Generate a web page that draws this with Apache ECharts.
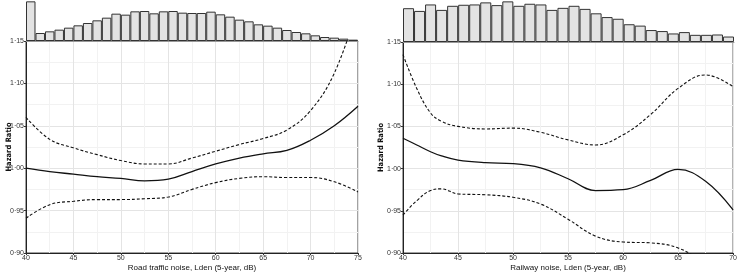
<!DOCTYPE html>
<html>
<head>
<meta charset="utf-8">
<script src="https://cdn.jsdelivr.net/npm/echarts@6/dist/echarts.min.js"></script>
<style>
  html, body { margin: 0; padding: 0; background: #fff; }
  #chart { width: 740px; height: 277px; }
</style>
</head>
<body>
<div id="chart"></div>
<script>
// 直方图 (相对频数, 1 dB 一格)
const roadBins = [40, 41, 42, 43, 44, 45, 46, 47, 48, 49, 50, 51, 52, 53, 54, 55, 56, 57, 58, 59, 60, 61, 62, 63, 64, 65, 66, 67, 68, 69, 70, 71, 72, 73, 74]
const roadCounts = [119, 24, 29, 34, 40, 47, 54, 62, 70, 82, 79, 89, 90, 83, 89, 90, 85, 84, 84, 88, 80, 73, 64, 59, 50, 46, 40, 33, 27, 23, 17, 12, 10, 7, 4]
const railBins = [40, 41, 42, 43, 44, 45, 46, 47, 48, 49, 50, 51, 52, 53, 54, 55, 56, 57, 58, 59, 60, 61, 62, 63, 64, 65, 66, 67, 68, 69]
const railCounts = [99, 91, 110, 94, 106, 109, 110, 116, 108, 119, 106, 112, 110, 94, 100, 106, 97, 84, 73, 68, 52, 48, 35, 32, 25, 29, 21, 21, 22, 16]

// 道路交通噪声
const roadDb = [40, 42.5, 45, 47.5, 50, 52.5, 55, 57.5, 60, 62.5, 65, 67.5, 70, 72.5, 75]
const roadHr = [1.000, 0.996, 0.993, 0.990, 0.988, 0.985, 0.987, 0.996, 1.005, 1.012, 1.017, 1.021, 1.033, 1.050, 1.073]
const roadHi = [1.060, 1.034, 1.024, 1.016, 1.009, 1.005, 1.005, 1.012, 1.020, 1.028, 1.035, 1.045, 1.068, 1.112, 1.190]
const roadLo = [0.941, 0.957, 0.961, 0.963, 0.963, 0.964, 0.966, 0.975, 0.983, 0.988, 0.990, 0.989, 0.989, 0.984, 0.972]

// 铁路噪声
const railDb = [40, 41.25, 42.5, 43.5, 45, 47.5, 50, 52.5, 55, 57.5, 60, 62.5, 65, 67.5, 70]
const railHr = [1.036, 1.028, 1.020, 1.015, 1.010, 1.007, 1.006, 1.001, 0.988, 0.974, 0.975, 0.986, 0.999, 0.985, 0.951]
const railHi = [1.135, 1.095, 1.066, 1.056, 1.050, 1.047, 1.048, 1.043, 1.034, 1.028, 1.040, 1.064, 1.095, 1.111, 1.097]
const railLo = [0.945, 0.962, 0.974, 0.976, 0.970, 0.969, 0.966, 0.958, 0.940, 0.920, 0.913, 0.912, 0.906, 0.887, 0.860]

const font = 'Liberation Sans, Arial, sans-serif'
const narrow = '"Liberation Sans Narrow", "DejaVu Sans Condensed", "Liberation Sans", sans-serif'
const fmt = v => v.toFixed(2).replace('.', '·')
const pairs = (xs, ys) => xs.map((x, i) => [x, ys[i]])

// 面板坐标
const panels = [
  { left: 26, right: 382, lineTop: 41, min: 40, max: 75, yGap: 13, name: 'Road traffic noise, Lden (5-year, dB)' },
  { left: 403, right: 6, lineTop: 42, min: 40, max: 70, yGap: 18, name: 'Railway noise, Lden (5-year, dB)' }
]

const grid = []
const xAxis = []
const yAxis = []
panels.forEach((p, i) => {
  // 直方图网格
  grid.push({ left: p.left, right: p.right, top: 0, height: p.lineTop })
  // 曲线网格
  grid.push({ left: p.left, right: p.right, top: p.lineTop, bottom: 22, show: true, borderColor: '#444', borderWidth: 1 })

  xAxis.push({
    type: 'category', gridIndex: i * 2,
    data: i === 0 ? roadBins : railBins,
    axisLine: { show: true, lineStyle: { color: '#999' } },
    axisTick: { show: false }, axisLabel: { show: false }
  })
  xAxis.push({
    type: 'value', gridIndex: i * 2 + 1, min: p.min, max: p.max, interval: 5,
    name: p.name, nameLocation: 'middle', nameGap: 11, nameMoveOverlap: false,
    nameTextStyle: { fontFamily: font, fontSize: 8, color: '#111' },
    axisLine: { lineStyle: { color: '#222' } },
    axisTick: { length: 2, lineStyle: { color: '#333' } },
    axisLabel: { fontFamily: font, fontSize: 7, color: '#333', margin: 2 },
    splitLine: { lineStyle: { color: '#e4e4e4' } },
    minorTick: { show: false, splitNumber: 2 },
    minorSplitLine: { show: true, lineStyle: { color: '#f2f2f2' } }
  })

  yAxis.push({
    type: 'value', gridIndex: i * 2, min: 0, max: 123,
    axisLine: { show: false }, axisTick: { show: false },
    axisLabel: { show: false }, splitLine: { show: false }
  })
  yAxis.push({
    type: 'value', gridIndex: i * 2 + 1, min: 0.90, max: 1.15, interval: 0.05,
    name: 'Hazard Ratio', nameLocation: 'middle', nameGap: p.yGap, nameRotate: 90, nameMoveOverlap: false,
    nameTextStyle: { fontFamily: narrow, fontSize: 7.5, fontWeight: 'bold', color: '#111' },
    axisLine: { show: true, lineStyle: { color: '#222' } },
    axisTick: { show: true, length: 2, lineStyle: { color: '#333' } },
    axisLabel: { fontFamily: font, fontSize: 7, color: '#333', margin: 2, formatter: fmt },
    splitLine: { lineStyle: { color: '#e4e4e4' } },
    minorTick: { show: false, splitNumber: 2 },
    minorSplitLine: { show: true, lineStyle: { color: '#f2f2f2' } }
  })
})

const histSeries = (idx, data) => ({
  type: 'bar', xAxisIndex: idx, yAxisIndex: idx, data: data,
  barCategoryGap: '0%', silent: true,
  itemStyle: { color: '#e3e3e3', borderColor: '#333', borderWidth: 1 }
})
const lineSeries = (idx, data, dashed) => ({
  type: 'line', xAxisIndex: idx, yAxisIndex: idx, data: data,
  smooth: 0.4, showSymbol: false, clip: true, silent: true,
  lineStyle: { color: '#111', width: dashed ? 1.1 : 1.3, type: dashed ? [3, 2] : 'solid' }
})

const myChart = echarts.init(document.querySelector('#chart'))
myChart.setOption({
  animation: false,
  grid, xAxis, yAxis,
  series: [
    histSeries(0, roadCounts),
    lineSeries(1, pairs(roadDb, roadHr), false),
    lineSeries(1, pairs(roadDb, roadHi), true),
    lineSeries(1, pairs(roadDb, roadLo), true),
    histSeries(2, railCounts),
    lineSeries(3, pairs(railDb, railHr), false),
    lineSeries(3, pairs(railDb, railHi), true),
    lineSeries(3, pairs(railDb, railLo), true)
  ]
})
</script>
</body>
</html>
